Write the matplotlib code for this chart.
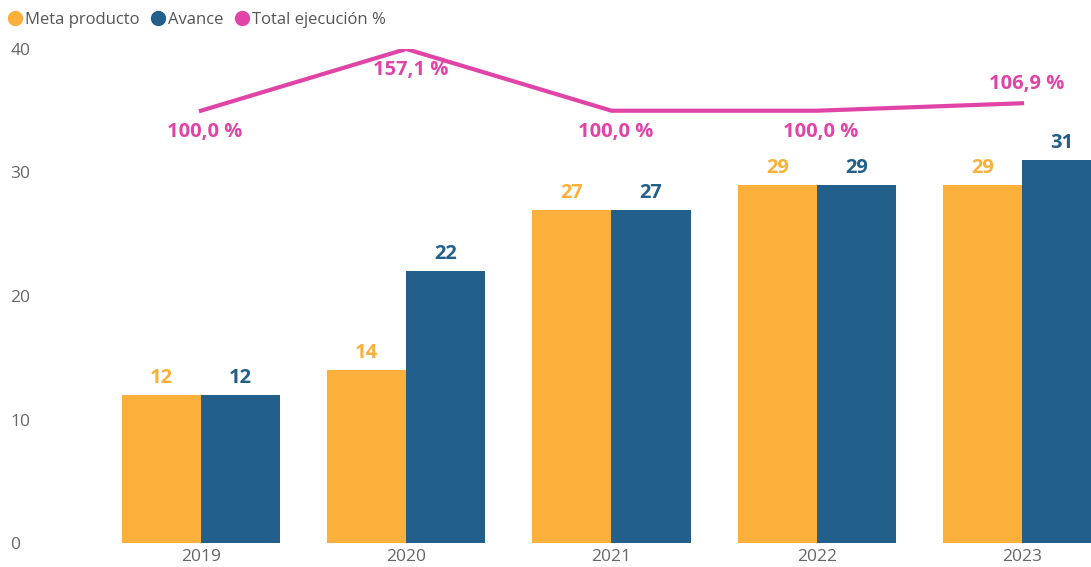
import matplotlib
matplotlib.use("Agg")
import matplotlib.pyplot as plt
import numpy as np
from matplotlib.lines import Line2D

years = ["2019", "2020", "2021", "2022", "2023"]
meta = [12, 14, 27, 29, 29]
avance = [12, 22, 27, 29, 31]
ejecucion = [100.0, 157.1, 100.0, 100.0, 106.9]
ejec_labels = ["100,0 %", "157,1 %", "100,0 %", "100,0 %", "106,9 %"]
label_above = [False, False, False, False, True]

c_meta = "#FBB03B"
c_av = "#225F8A"
c_line = "#E044A7"

plt.rcParams['font.family'] = ['Open Sans', 'DejaVu Sans']

fig = plt.figure(figsize=(10.91, 5.67), dpi=100)
W, H = 1091, 567
left_px, right_px, top_px, bot_px = 40, 1091, 49, 543
ax = fig.add_axes([left_px / W, 1 - bot_px / H, (right_px - left_px) / W, (bot_px - top_px) / H])

x = np.arange(len(years))
bw = 0.385
ax.bar(x - bw / 2, meta, width=bw, color=c_meta, label="Meta producto", zorder=2)
ax.bar(x + bw / 2, avance, width=bw, color=c_av, label="Avance", zorder=2)

for xi, m, a in zip(x, meta, avance):
    ax.annotate(str(m), (xi - bw / 2, m), xytext=(0, 5), textcoords="offset points",
                ha="center", va="bottom", color=c_meta, fontsize=14.5, fontweight="bold")
    ax.annotate(str(a), (xi + bw / 2, a), xytext=(0, 5), textcoords="offset points",
                ha="center", va="bottom", color=c_av, fontsize=14.5, fontweight="bold")

ax.set_xlim(-0.784, 4.336)
ax.set_ylim(0, 40)
ax.set_yticks([0, 10, 20, 30, 40])
ax.set_xticks(x)
ax.set_xticklabels(years)
for s in ax.spines.values():
    s.set_visible(False)
ax.tick_params(axis="both", length=0, colors="#666666", labelsize=12.5)
ax.tick_params(axis="x", pad=4)
for lab in ax.get_yticklabels():
    lab.set_horizontalalignment("left")
ax.yaxis.set_tick_params(pad=21.5)

ax2 = ax.twinx()
ax2.set_ylim(-300, 157.1)
ax2.plot(x, ejecucion, color=c_line, linewidth=3, zorder=3, label="Total ejecución %")
ax2.axis("off")
for xi, v, lab, up in zip(x, ejecucion, ejec_labels, label_above):
    ax2.annotate(lab, (xi, v), xytext=(3, 7 if up else -8), textcoords="offset points",
                 ha="center", va="bottom" if up else "top", color=c_line,
                 fontsize=14.5, fontweight="bold")

handles = [Line2D([], [], marker="o", linestyle="", color=c_meta, markersize=10),
           Line2D([], [], marker="o", linestyle="", color=c_av, markersize=10),
           Line2D([], [], marker="o", linestyle="", color=c_line, markersize=10)]
leg = fig.legend(handles, ["Meta producto", "Avance", "Total ejecución %"],
                 loc="upper left", bbox_to_anchor=(-0.006, 1.0), ncol=3, frameon=False,
                 fontsize=12, handletextpad=0.0, columnspacing=0.5, handlelength=1.2,
                 borderaxespad=0.3)
for t in leg.get_texts():
    t.set_color("#555555")

fig.savefig("out.png", dpi=100)
